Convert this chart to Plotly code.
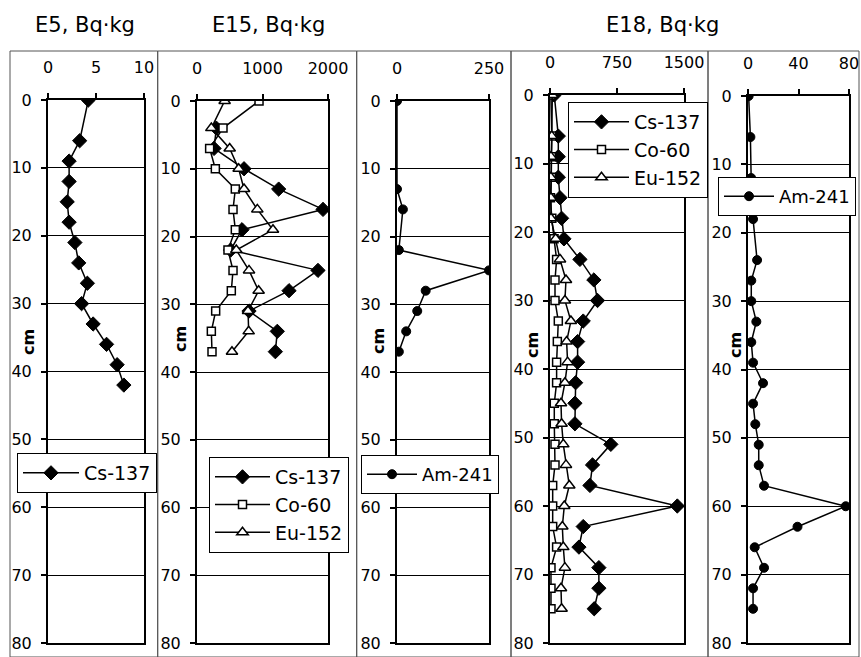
import plotly.graph_objects as go

W, H = 861, 657
FONT = "DejaVu Sans"

# ---------------- data ----------------
e5_depth = [0, 6, 9, 12, 15, 18, 21, 24, 27, 30, 33, 36, 39, 42]
e5_cs = [4.2, 3.3, 2.2, 2.2, 2.0, 2.2, 2.8, 3.2, 4.1, 3.5, 4.7, 6.1, 7.2, 7.9]

e15_depth = [0, 4, 7, 10, 13, 16, 19, 22, 25, 28, 31, 34, 37]
e15_cs = [None, 295, 260, 718, 1247, 1924, 687, 514, 1847, 1405, 794, 1226, 1196]
e15_co = [947, 397, 193, 280, 585, 550, 585, 473, 550, 524, 285, 219, 229]
e15_eu = [422, 219, 499, 636, 718, 921, 1160, 600, 794, 941, 779, 789, 534]

e15_am_depth = [0, 13, 16, 22, 25, 28, 31, 34, 37]
e15_am = [0, 0, 16, 5, 250, 78, 55, 25, 5]

e18_depth = [0, 6, 9, 12, 15, 18, 21, 24, 27, 30, 33, 36, 39, 42, 45, 48,
             51, 54, 57, 60, 63, 66, 69, 72, 75]
e18_cs = [48, 93, 93, 93, 112, 130, 156, 335, 491, 532, 372, 309, 309, 287,
          279, 279, 681, 476, 447, 1425, 372, 324, 547, 547, 495]
e18_co = [10, 20, 15, 15, 5, 20, 45, 74, 56, 56, 93, 82, 74, 74, 48, 48,
          56, 56, 30, 30, 30, 74, 11, 11, 11]
e18_eu = [26, 19, 10, 10, 10, 11, 63, 112, 179, 167, 234, 186, 197, 167, 123,
          130, 149, 179, 216, 160, 138, 149, 167, 123, 130]

e18_am_depth = [0, 6, 12, 15, 18, 24, 27, 30, 33, 36, 39, 42, 45, 48, 51, 54,
                57, 60, 63, 66, 69, 72, 75]
e18_am = [0.5, 1.9, 2.5, 3, 4, 7.2, 2.6, 2.6, 6.6, 2.6, 4, 11.9, 4, 5.8, 8.5,
          8.5, 12.7, 77.4, 39.2, 5.3, 12.7, 4, 4]

depth_ticks = [0, 10, 20, 30, 40, 50, 60, 70, 80]

panel_titles = ["E5, Bq·kg", "E15, Bq·kg", "E18, Bq·kg"]

# ---------------- layout geometry (pixels) ----------------
panels = [  # x0, x1, ytop, ybot, xrange, xticks
    (48, 144, 100, 643, [0, 10], [0, 5, 10]),
    (197, 328, 101, 643, [0, 2000], [0, 1000, 2000]),
    (397, 489, 101, 643, [0, 250], [0, 250]),
    (550, 684, 95, 643, [0, 1500], [0, 750, 1500]),
    (748, 849, 96, 643, [0, 80], [0, 40, 80]),
]

STY = {
    "Cs-137": dict(symbol="diamond", size=11, color="black",
                   line=dict(color="black", width=1)),
    "Co-60": dict(symbol="square", size=8, color="white",
                  line=dict(color="black", width=1.5)),
    "Eu-152": dict(symbol="triangle-up", size=10, color="white",
                   line=dict(color="black", width=1.5)),
    "Am-241": dict(symbol="circle", size=9, color="black",
                   line=dict(color="black", width=1)),
}

fig = go.Figure()

series = [
    (1, "legend", e5_depth, e5_cs, "Cs-137"),
    (2, "legend2", e15_depth, e15_cs, "Cs-137"),
    (2, "legend2", e15_depth, e15_co, "Co-60"),
    (2, "legend2", e15_depth, e15_eu, "Eu-152"),
    (3, "legend3", e15_am_depth, e15_am, "Am-241"),
    (4, "legend4", e18_depth, e18_cs, "Cs-137"),
    (4, "legend4", e18_depth, e18_co, "Co-60"),
    (4, "legend4", e18_depth, e18_eu, "Eu-152"),
    (5, "legend5", e18_am_depth, e18_am, "Am-241"),
]

for i, (p, leg, d, v, name) in enumerate(series):
    sfx = "" if p == 1 else str(p)
    fig.add_trace(go.Scatter(
        x=v, y=d, mode="lines+markers", name=name,
        line=dict(color="black", width=1.5),
        marker=STY[name], xaxis="x" + sfx, yaxis="y" + sfx,
        legend=leg, legendgroup=f"g{i}", connectgaps=False,
    ))

layout = dict(
    width=W, height=H, autosize=False,
    margin=dict(l=0, r=0, t=0, b=0, pad=0, autoexpand=False),
    paper_bgcolor="white", plot_bgcolor="white",
    font=dict(family=FONT, size=16, color="black"),
    showlegend=True,
)

for k, (x0, x1, yt, yb, xr, xt) in enumerate(panels, start=1):
    sfx = "" if k == 1 else str(k)
    layout["xaxis" + sfx] = dict(
        domain=[x0 / W, x1 / W], anchor="y" + sfx, side="top",
        range=xr, tickvals=xt, ticks="outside", ticklen=5, tickwidth=1.5,
        tickcolor="black", showline=True, linewidth=2, linecolor="black",
        mirror=True, showgrid=False, zeroline=False, ticklabelstandoff=14,
        tickfont=dict(family=FONT, size=16, color="black"), fixedrange=True,
        automargin=False,
    )
    layout["yaxis" + sfx] = dict(
        domain=[1 - yb / H, 1 - yt / H], anchor="x" + sfx,
        range=[80, 0], tickvals=depth_ticks, ticks="outside", ticklen=5,
        tickwidth=1.5, tickcolor="black", showline=True, linewidth=2,
        linecolor="black", mirror=True, showgrid=True, gridcolor="black",
        gridwidth=1, zeroline=False, ticklabelstandoff=6,
        tickfont=dict(family=FONT, size=16, color="black"), fixedrange=True,
        automargin=False,
    )

legend_cfg = {  # x, y (px), font size, item width
    "legend": (17, 453, 19, 56),
    "legend2": (209, 457, 19, 55),
    "legend3": (361, 455, 18, 50),
    "legend4": (568, 102, 19, 55),
    "legend5": (718, 177, 18, 50),
}
for key, (lx, ly, fs, iw) in legend_cfg.items():
    layout[key] = dict(
        x=lx / W, y=1 - ly / H, xanchor="left", yanchor="top",
        bgcolor="white", bordercolor="black", borderwidth=1,
        font=dict(family=FONT, size=fs, color="black"),
        itemwidth=iw, tracegroupgap=13, traceorder="normal",
    )

fig.update_layout(**layout)

# panel frames
frames = [10, 157.7, 356.7, 511, 708, 859]
shapes = []
for a, b in zip(frames[:-1], frames[1:]):
    shapes.append(dict(type="rect", xref="paper", yref="paper",
                       x0=a / W, x1=b / W, y0=0, y1=1 - 51 / H,
                       line=dict(color="#555555", width=1), layer="below"))
fig.update_layout(shapes=shapes)

# titles
for txt, cx in zip(panel_titles, [85, 268, 662]):
    fig.add_annotation(text=txt, x=cx / W, y=1 - 25 / H, xref="paper",
                       yref="paper", showarrow=False, xanchor="center",
                       yanchor="middle",
                       font=dict(family=FONT, size=21, color="black"))

# y-axis "cm" labels
for cx, cy in [(28, 342), (180, 339), (378, 341), (532, 345), (735, 345)]:
    fig.add_annotation(text="<b>cm</b>", x=cx / W, y=1 - cy / H, xref="paper",
                       yref="paper", showarrow=False, textangle=-90,
                       xanchor="center", yanchor="middle",
                       font=dict(family=FONT, size=16, color="black"))

PIN = (
    "document.documentElement.style.overflow='hidden';"
    "document.body.style.margin='0';"
    "document.body.style.overflow='hidden';"
)

fig.write_html(
    "out.html",
    config={"responsive": False, "displayModeBar": False},
    post_script=PIN,
)
